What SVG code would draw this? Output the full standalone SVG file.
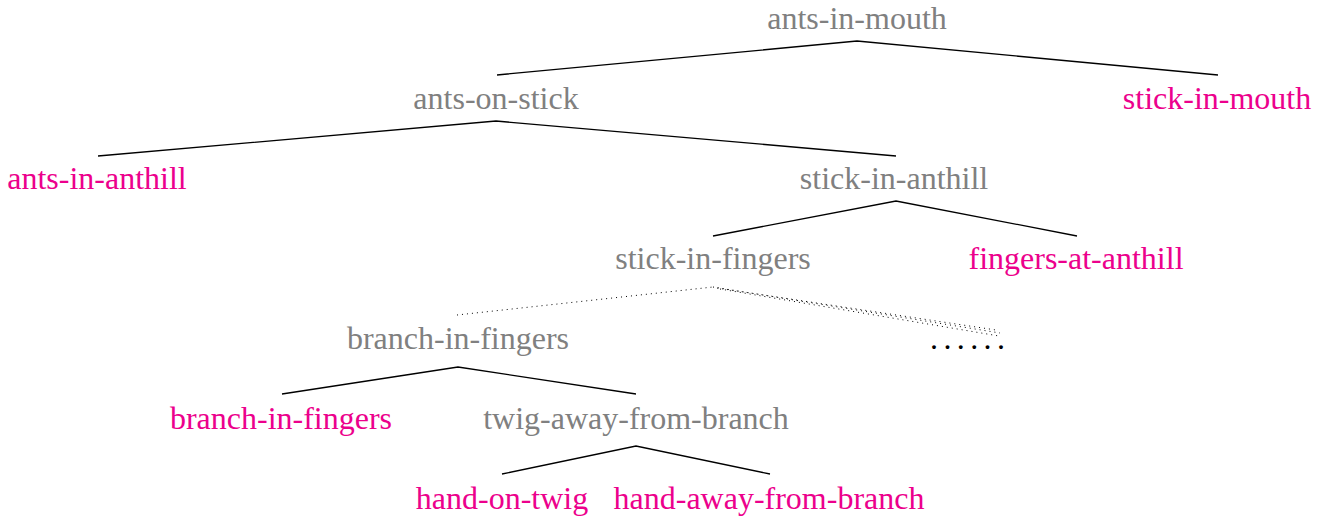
<svg xmlns="http://www.w3.org/2000/svg" width="1327" height="516" viewBox="0 0 1327 516">
  <style>
    text { font-family: "Liberation Serif", "Times New Roman", serif; font-size: 32px; text-anchor: middle; }
    .inner { fill: #808080; }
    .leaf { fill: #ec008c; }
    .edge { stroke: #000; stroke-width: 1.3; fill: none; }
    .dotted { stroke: #000; stroke-width: 1; stroke-dasharray: 1 4; fill: none; }
    .ellipsis { fill: #000; text-anchor: start; letter-spacing: 5.4px; }
  </style>
  <rect width="1327" height="516" fill="#fff"/>

  <g id="connectors">
    <path class="edge" d="M497 75 L857 41 L1218 75"/>
    <path class="edge" d="M98 156 L496 121 L896 156"/>
    <path class="edge" d="M713 236 L896 201 L1077 236"/>
    <path class="dotted" d="M457 315 L713 287"/>
    <path class="dotted" d="M713 287 L1000 333"/>
    <path class="dotted" d="M717 288 L996 330"/>
    <path class="dotted" d="M720 289 L999 336"/>
    <path class="edge" d="M282 394 L458 367 L636 394"/>
    <path class="edge" d="M502 474 L636 446 L770 474"/>
  </g>

  <g id="ants-in-mouth"><text class="inner" x="857" y="29">ants-in-mouth</text></g>
  <g id="ants-on-stick"><text class="inner" x="496" y="109">ants-on-stick</text></g>
  <g id="stick-in-mouth"><text class="leaf" x="1217" y="109">stick-in-mouth</text></g>
  <g id="ants-in-anthill"><text class="leaf" x="97" y="189">ants-in-anthill</text></g>
  <g id="stick-in-anthill"><text class="inner" x="894" y="189">stick-in-anthill</text></g>
  <g id="stick-in-fingers"><text class="inner" x="713" y="269">stick-in-fingers</text></g>
  <g id="fingers-at-anthill"><text class="leaf" x="1076" y="269">fingers-at-anthill</text></g>
  <g id="branch-in-fingers"><text class="inner" x="458" y="349">branch-in-fingers</text></g>
  <g id="more"><text class="ellipsis" x="930" y="349">......</text></g>
  <g id="branch-in-fingers-leaf"><text class="leaf" x="281" y="429">branch-in-fingers</text></g>
  <g id="twig-away-from-branch"><text class="inner" x="636" y="429">twig-away-from-branch</text></g>
  <g id="hand-on-twig"><text class="leaf" x="502" y="509">hand-on-twig</text></g>
  <g id="hand-away-from-branch"><text class="leaf" x="769" y="509">hand-away-from-branch</text></g>
</svg>
